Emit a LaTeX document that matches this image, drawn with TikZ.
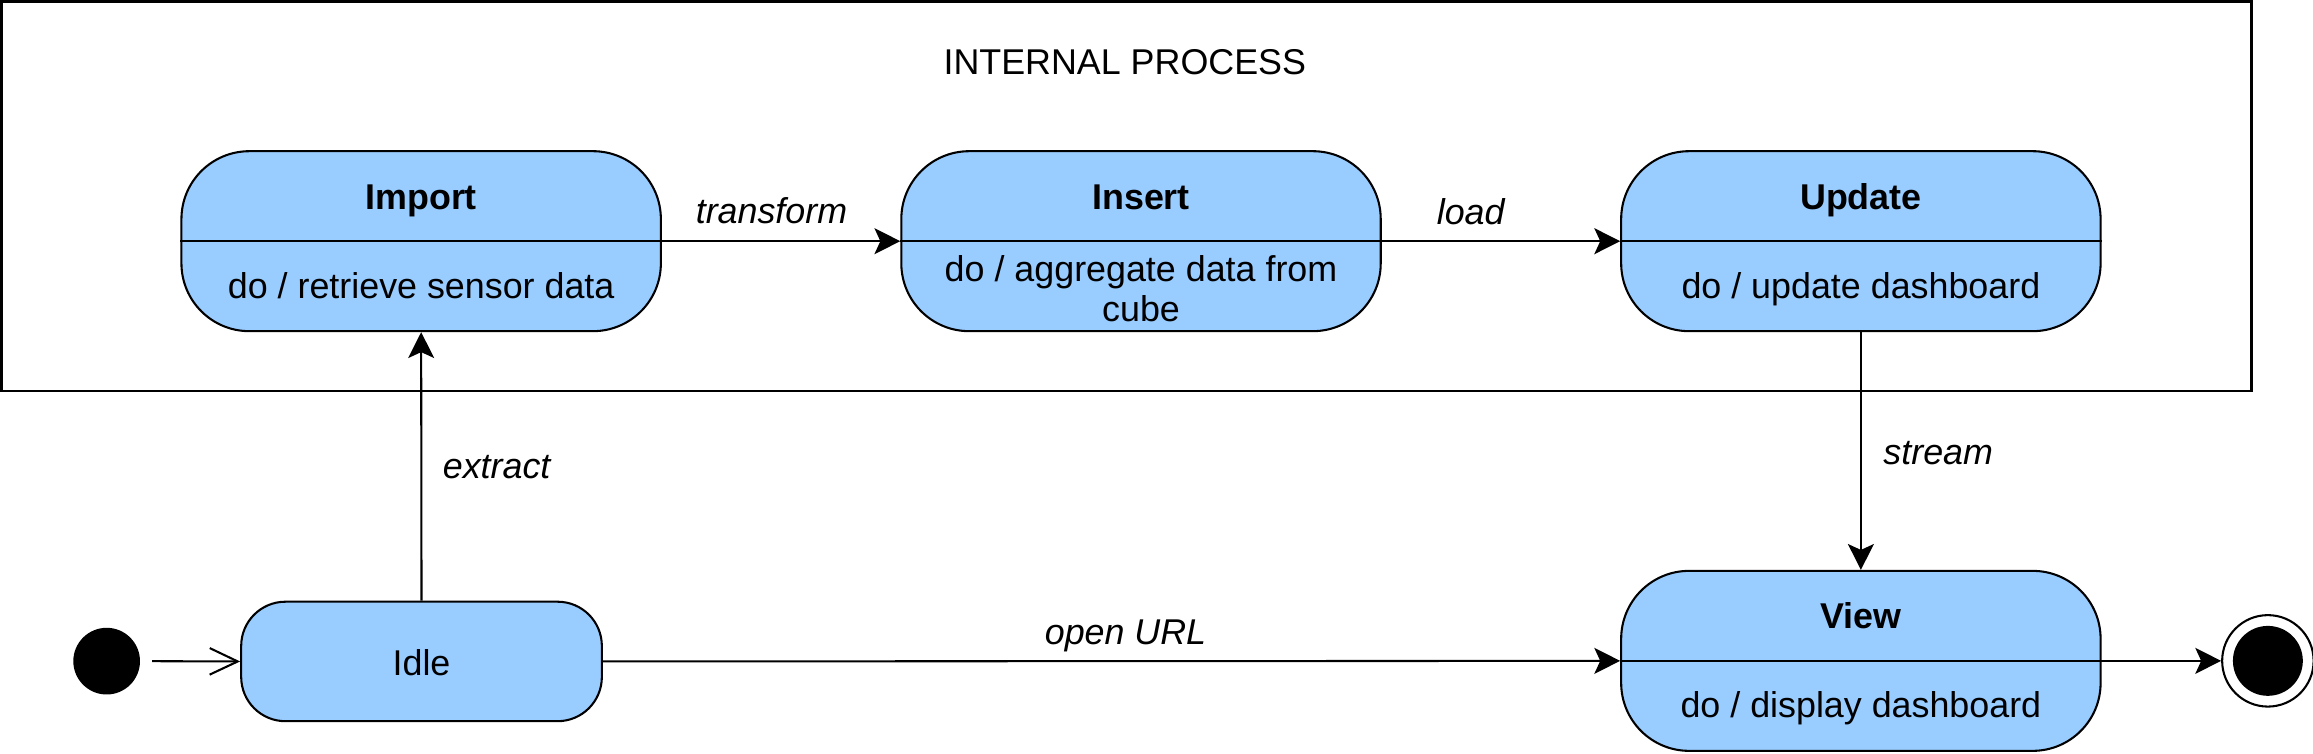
\documentclass[tikz,border=0pt]{standalone}
\usepackage{fontspec}
\setmainfont{Liberation Sans}
\usetikzlibrary{arrows.meta}
\definecolor{stfill}{HTML}{99CCFF}
\tikzset{
  statebox/.style={draw, line width=1.4pt, fill=stfill, rounded corners=46pt,
    minimum width=325pt, minimum height=122pt, inner sep=0pt},
  idlebox/.style={draw, line width=1.4pt, fill=stfill, rounded corners=30pt,
    minimum width=244.5pt, minimum height=81pt, inner sep=0pt},
  divider/.style={line width=1.4pt},
  txt/.style={inner sep=0pt, font=\fontsize{24.3}{29}\selectfont},
  ctxt/.style={txt, anchor=base},
  btxt/.style={txt, anchor=base, font=\fontsize{24.3}{29}\selectfont\bfseries},
  lbl/.style={txt, anchor=base, font=\fontsize{24.3}{29}\selectfont\itshape},
  lbll/.style={lbl, anchor=base west},
  flow/.style={line width=1.4pt, -{Stealth[length=17.5pt, width=17.6pt, inset=4pt]}},
  openflow/.style={line width=1.4pt, -{Straight Barb[length=19pt, width=18pt]}},
  frame/.style={draw, line width=1.8pt},
}
\begin{document}
\begin{tikzpicture}[x=1pt, y=-1pt]
\useasboundingbox (0,0) rectangle (1568,510.5);
% outer frame
\node[frame, inner sep=0pt, minimum width=1525.5pt, minimum height=264pt] (frame) at (763.75,133) {};
\node[ctxt] (ftitle) at (762.5,50.4) {INTERNAL PROCESS};

% states
\node[statebox] (import) at (285.5,163.5) {};
\node[statebox] (insert) at (773.5,163.5) {};
\node[statebox] (update) at (1261.5,163.5) {};
\node[statebox] (view) at (1261.5,448) {};
\node[idlebox] (idle) at (285.75,448.4) {};

\draw[divider] (import.west) -- (import.east);
\draw[divider] (insert.west) -- (insert.east);
\draw[divider] (update.west) -- (update.east);
\draw[divider] (view.west) -- (view.east);

\node[btxt] (importt) at (285.5,142.2) {Import};
\node[ctxt] (importb) at (285.5,202.3) {do / retrieve sensor data};
\node[btxt] (insertt) at (773.5,142.2) {Insert};
\node[ctxt] (insertb1) at (773.5,191) {do / aggregate data from};
\node[ctxt] (insertb2) at (773.5,218) {cube};
\node[btxt] (updatet) at (1261.5,142.2) {Update};
\node[ctxt] (updateb) at (1261.5,202.2) {do / update dashboard};
\node[btxt] (viewt) at (1261.5,426.2) {View};
\node[ctxt] (viewb) at (1261.5,486.6) {do / display dashboard};
\node[ctxt] (idlet) at (285.75,457.6) {Idle};

% pseudo states
\node[circle, fill=black, inner sep=0pt, minimum size=45.2pt] (init) at (72.3,448.2) {};
\node[circle, draw, line width=1.4pt, fill=white, inner sep=0pt, minimum size=62pt] (final) at (1537.4,448) {};
\node[circle, fill=black, inner sep=0pt, minimum size=47.4pt] (finalin) at (final.center) {};

% transitions
\draw[openflow, shorten <=8pt] (init.east) -- (idle.west);
\draw[flow] (idle.north) -- (import.south);
\draw[flow] (import.east) -- (insert.west);
\draw[flow] (insert.east) -- (update.west);
\draw[flow] (update.south) -- (view.north);
\draw[flow] (idle.east) -- (view.west);
\draw[flow] (view.east) -- (final.west);

% labels
\node[lbl] (ltransform) at (523,151.5) {transform};
\node[lbl] (lload) at (997,151.9) {load};
\node[lbll] (lextract) at (300,324.7) {extract};
\node[lbll] (lstream) at (1276.6,314.6) {stream};
\node[lbl] (lopen) at (763,436.8) {open URL};
\end{tikzpicture}
\end{document}
